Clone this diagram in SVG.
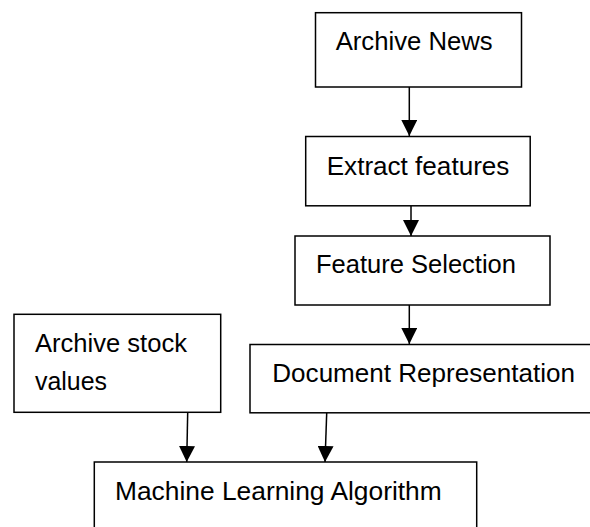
<svg xmlns="http://www.w3.org/2000/svg" width="590" height="527" viewBox="0 0 590 527">
<style>
.box{fill:#fff;stroke:#000;stroke-width:1.5}
.t{font-family:"Liberation Sans",Arial,sans-serif;font-size:25px;fill:#000}
.c{stroke:#000;stroke-width:1.5;fill:none}
</style>
<defs>
<marker id="ah" markerUnits="userSpaceOnUse" markerWidth="16" markerHeight="16" viewBox="0 0 14 14" refX="14" refY="7" orient="auto">
<path d="M0,0 L14,7 L0,14 Z" fill="#000"/>
</marker>
</defs>
<rect width="590" height="527" fill="#fff"/>
<g id="archive-news"><rect class="box" x="315.5" y="12.7" width="206" height="74.3"/><text class="t" x="335.7" y="50" textLength="157" lengthAdjust="spacingAndGlyphs">Archive News</text></g>
<g id="extract-features"><rect class="box" x="305.7" y="136.5" width="224.5" height="69.3"/><text class="t" x="326.7" y="175" textLength="182.7" lengthAdjust="spacingAndGlyphs">Extract features</text></g>
<g id="feature-selection"><rect class="box" x="295" y="236" width="255" height="69"/><text class="t" x="316" y="272.7" textLength="200" lengthAdjust="spacingAndGlyphs">Feature Selection</text></g>
<g id="document-representation"><rect class="box" x="250" y="344.5" width="345" height="68.3"/><text class="t" x="272.3" y="382.3" textLength="302.7" lengthAdjust="spacingAndGlyphs">Document Representation</text></g>
<g id="archive-stock"><rect class="box" x="14" y="314.3" width="206.7" height="98"/><text class="t" x="35" y="351.7" textLength="152" lengthAdjust="spacingAndGlyphs">Archive stock</text><text class="t" x="35" y="390" textLength="72" lengthAdjust="spacingAndGlyphs">values</text></g>
<g id="machine-learning"><rect class="box" x="94.3" y="462" width="382.4" height="80"/><text class="t" x="115" y="500" textLength="326.7" lengthAdjust="spacingAndGlyphs">Machine Learning Algorithm</text></g>
<g id="connectors">
<line class="c" x1="409.3" y1="87" x2="409.3" y2="136" marker-end="url(#ah)"/>
<line class="c" x1="411" y1="206" x2="411" y2="236" marker-end="url(#ah)"/>
<line class="c" x1="409.3" y1="305" x2="409.3" y2="344" marker-end="url(#ah)"/>
<line class="c" x1="187.7" y1="412.3" x2="186.7" y2="462" marker-end="url(#ah)"/>
<line class="c" x1="326.7" y1="413" x2="325" y2="462" marker-end="url(#ah)"/>
</g>
</svg>
